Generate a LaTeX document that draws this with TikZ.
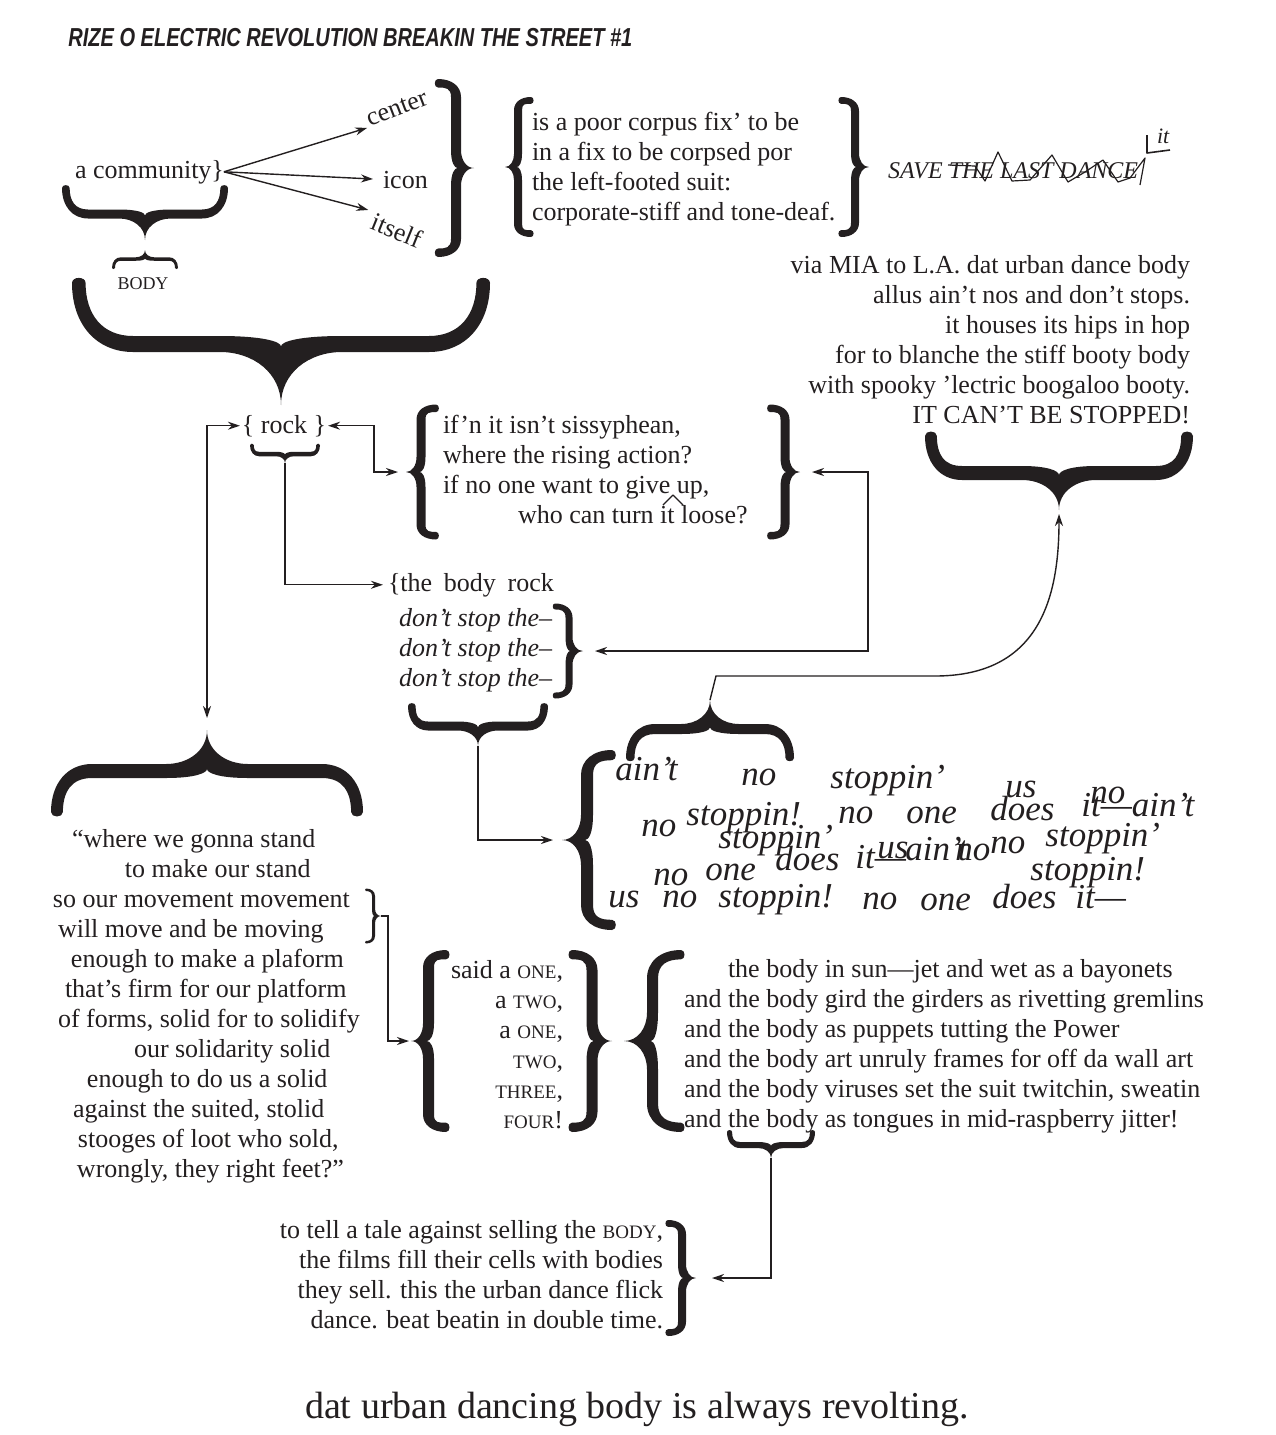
\documentclass[tikz,border=0pt]{standalone}
\usepackage{fontspec}
\setmainfont{Liberation Serif}
\newfontfamily\titlefont[FakeStretch=0.77]{Liberation Sans}
\usetikzlibrary{arrows.meta}
\definecolor{ink}{HTML}{231F20}
\newcommand\sca[1]{{\fontsize{9.5}{15}\selectfont #1}}
% heavy brace: name of tip, centre of open side, angle, length, depth, stem
\newcommand\heavybrace[6]{%
  \begin{scope}[shift={#2}, rotate=#3, x=0.5pt, y=0.5pt]
    \pgfmathsetmacro\brA{#4/2}%
    \pgfmathsetmacro\brD{#5}%
    \pgfmathsetmacro\brH{#5/2}%
    \pgfmathsetmacro\brT{#6/2}%
    \pgfmathsetmacro\brR{min(#5*0.5,#4*0.2)}%
    \pgfmathsetmacro\brE{#6*0.85}%
    \fill[ink] (-\brA,0)
      .. controls (-\brA,{-0.6*(\brH+\brT)}) and ({-\brA+0.4*\brR},{-\brH-\brT}) .. ({-\brA+\brR},{-\brH-\brT})
      -- ({-\brR},{-\brH-\brT})
      .. controls ({-0.45*\brR},{-\brH-\brT}) and (0,{-\brH-\brT-0.4*(\brH-\brT)}) .. (0,-\brD)
      .. controls (0,{-\brH-\brT-0.4*(\brH-\brT)}) and ({0.45*\brR},{-\brH-\brT}) .. ({\brR},{-\brH-\brT})
      -- ({\brA-\brR},{-\brH-\brT})
      .. controls ({\brA-0.4*\brR},{-\brH-\brT}) and (\brA,{-0.6*(\brH+\brT)}) .. (\brA,0)
      .. controls (\brA,{0.5*\brE}) and ({\brA-\brE},{0.5*\brE}) .. ({\brA-\brE},0)
      .. controls ({\brA-\brE},{-0.6*(\brH-\brT)}) and ({\brA-0.5*\brR},{-\brH+\brT}) .. ({\brA-\brR},{-\brH+\brT})
      -- ({\brR},{-\brH+\brT})
      .. controls ({0.3*\brR},{-\brH+\brT}) and (0,{-\brH+0.3*\brT}) .. (0,{-\brH-0.3*\brT})
      .. controls (0,{-\brH+0.3*\brT}) and ({-0.3*\brR},{-\brH+\brT}) .. ({-\brR},{-\brH+\brT})
      -- ({-\brA+\brR},{-\brH+\brT})
      .. controls ({-\brA+0.5*\brR},{-\brH+\brT}) and ({-\brA+\brE},{-0.6*(\brH-\brT)}) .. ({-\brA+\brE},0)
      .. controls ({-\brA+\brE},{0.5*\brE}) and (-\brA,{0.5*\brE}) .. (-\brA,0) -- cycle;
    \coordinate (#1) at (0,-\brD);
  \end{scope}}
\tikzset{
  verse/.style={inner sep=0pt, outer sep=0pt, align=left, text=ink, font=\fontsize{13}{15}\selectfont},
  verseright/.style={verse, align=right},
  jumble/.style={inner sep=0pt, anchor=base west, text=ink, font=\fontsize{17.5}{20}\selectfont\itshape},
  link/.style={draw=ink, line width=0.7pt},
  scribble/.style={draw=ink, line width=0.6pt, line join=round}
}
\begin{document}
\begin{tikzpicture}[x=0.5pt, y=-0.5pt, >={Stealth[length=6pt,width=4pt]}]
\useasboundingbox (0,0) rectangle (1275,1435);

\node[anchor=base west, inner sep=0pt, text=ink, font=\titlefont\bfseries\itshape\fontsize{13}{15}\selectfont] (title) at (68,46) {RIZE O ELECTRIC REVOLUTION BREAKIN THE STREET \#1};

% a community fan
\node[verse, anchor=base west] (comm) at (75,178) {a community\}};
\node[verse, anchor=south west, rotate=21] (center) at (370,127) {center};
\node[verse, anchor=base west] (icon) at (383,188) {icon};
\node[verse, anchor=north west, rotate=-22] (itself) at (376,212) {itself};
\draw[link,->,shorten >=1.5pt] (comm.east) -- (center.south west);
\draw[link,->,shorten >=5pt] (comm.east) -- (icon.west);
\draw[link,->,shorten >=4pt] (comm.east) -- (itself.north west);

\heavybrace{commtip}{(145,188)}{0}{166}{52}{9}
\heavybrace{bodytip}{(145,268)}{180}{66}{18}{3.5}
\node[inner sep=0pt, anchor=base, text=ink, font=\fontsize{9}{11}\selectfont] (body) at (143,289) {BODY};
\heavybrace{bigtip}{(281,283)}{0}{418}{122}{16}
\heavybrace{fantip}{(438,168)}{90}{178}{36}{10}

% corpus
\heavybrace{corpL}{(531,167)}{-90}{140}{26}{8}
\node[verse, anchor=north west] (corpus) at (532,112) {is a poor corpus fix' to be\\in a fix to be corpsed por\\the left-footed suit:\\corporate-stiff and tone-deaf.};
\heavybrace{corpR}{(841,167)}{90}{140}{28}{8}
\node[verse, anchor=base west, font=\fontsize{12}{14}\selectfont\itshape] (save) at (888,178) {SAVE THE LAST DANCE};
\draw[scribble] (948,165) -- (975,166) -- (985,181) -- (998,152) -- (1012,181) -- (1030,180) -- (1052,155) -- (1068,182) -- (1085,172) -- (1103,160) -- (1118,182) -- (1130,178) -- (1145,158) -- (1140,185);
\draw[scribble, line width=0.8pt] (1147,135) -- (1147,153) -- (1170,150);
\node[verse, anchor=base west, font=\fontsize{11}{13}\selectfont\itshape] (it) at (1157,143) {it};

% via MIA
\node[verseright, anchor=north east] (mia) at (1190,255) {via MIA to L.A. dat urban dance body\\allus ain't nos and don't stops.\\it houses its hips in hop\\for to blanche the stiff booty body\\with spooky 'lectric boogaloo booty.\\IT CAN'T BE STOPPED!};
\heavybrace{miatip}{(1059,436)}{0}{268}{74}{14}

% rock
\node[verse, anchor=base] (rock) at (284,433) {\{ rock \}};
\heavybrace{rocktip}{(285,445)}{0}{70}{18}{4.5}
\heavybrace{ifL}{(436,472)}{-90}{135}{30}{9}
\node[verse, anchor=north west] (ifn) at (443,415) {if'n it isn't sissyphean,\\where the rising action?\\if no one want to give up,\\\hspace*{37.5pt}who can turn it loose?};
\draw[scribble] (663,505) -- (673,495) -- (683,505);
\heavybrace{ifR}{(770,472)}{90}{135}{30}{9}

\node[verse, anchor=base west] (bodyrock) at (388,591) {\{the\hspace{0.45em}body\hspace{0.45em}rock};
\node[verse, anchor=north west, font=\fontsize{13}{15}\selectfont\itshape] (stop) at (399,608) {don't stop the--\\don't stop the--\\don't stop the--};
\heavybrace{stoptip}{(555,651)}{90}{95}{28}{7}
\heavybrace{stopbtip}{(478,706)}{0}{140}{40}{9}

% ain't no stoppin'
\heavybrace{aintip}{(710,758)}{180}{168}{58}{10}
\heavybrace{jumtip}{(612,840)}{-90}{180}{50}{12}
\foreach \x/\y/\w [count=\k] in {615/780/ain't, 741/785/no, 830/788/stoppin', 1005/797/us, 1090/803/no,
  641/836/no, 686/825/stoppin!, 838/823/no, 906/823/one, 990/820/does, 1081/816/it---ain't,
  718/848/stoppin', 877/858/us, 905/860/ain't, 955/860/no, 990/853/no, 1045/846/stoppin',
  653/885/no, 705/880/one, 775/870/does, 855/868/it---, 1030/880/stoppin!,
  608/907/us, 662/907/no, 718/907/stoppin!, 862/909/no, 920/910/one, 992/908/does, 1075/908/it---}
  \node[jumble] (jw\k) at (\x,\y) {\w};

% quote
\heavybrace{quotetip}{(207,812)}{180}{312}{82}{14}
\node[verse, anchor=north west] (quote) at (53,829) {\hspace*{9.5pt}``where we gonna stand\\
\hspace*{36pt}to make our stand\\
so our movement movement\\
\hspace*{2.5pt}will move and be moving\\
\hspace*{9pt}enough to make a plaform\\
\hspace*{6pt}that's firm for our platform\\
\hspace*{2.5pt}of forms, solid for to solidify\\
\hspace*{40.5pt}our solidarity solid\\
\hspace*{17pt}enough to do us a solid\\
\hspace*{10pt}against the suited, stolid\\
\hspace*{12.5pt}stooges of loot who sold,\\
\hspace*{12pt}wrongly, they right feet?''};
\heavybrace{movtip}{(366,916)}{90}{55}{15}{3}

% one two
\heavybrace{oneL}{(446,1041)}{-90}{182}{35}{11}
\node[verseright, anchor=north east] (count) at (563,960) {said a \sca{ONE},\\a \sca{TWO},\\a \sca{ONE},\\\sca{TWO},\\\sca{THREE},\\\sca{FOUR}!};
\heavybrace{oneR}{(572,1041)}{90}{182}{40}{11}
\heavybrace{bodyL}{(681,1041)}{-90}{182}{57}{11}
\node[verse, anchor=north west] (bodies) at (684,959) {\hspace*{22pt}the body in sun---jet and wet as a bayonets\\and the body gird the girders as rivetting gremlins\\and the body as puppets tutting the Power\\and the body art unruly frames for off da wall art\\and the body viruses set the suit twitchin, sweatin\\and the body as tongues in mid-raspberry jitter!};
\heavybrace{astip}{(771,1132)}{0}{88}{26}{6}

\node[verseright, anchor=north east] (tell) at (663,1220) {to tell a tale against selling the \sca{BODY},\\the films fill their cells with bodies\\they sell. this the urban dance flick\\dance. beat beatin in double time.};
\heavybrace{telltip}{(668,1278)}{90}{116}{28}{8}

\node[inner sep=0pt, anchor=base, text=ink, font=\fontsize{19}{22}\selectfont] (last) at (637,1418) {dat urban dancing body is always revolting.};

% connectors
\draw[link,<->,shorten <=1pt,shorten >=6pt] (rock.west) -| (quotetip);
\draw[link,<->,shorten <=1pt,shorten >=4pt] (rock.east) -- ++(48,0) |- (ifL);
\draw[link,->,shorten >=2.5pt] (rocktip) |- (bodyrock.west);
\draw[link,<->,shorten <=6pt,shorten >=6pt] (ifR) -- ++(68,0) |- (stoptip);
\draw[link,->,shorten >=4.5pt] (stopbtip) |- (jumtip);
\draw[link,->,shorten >=2pt] (aintip) -- ++(6,-24) -- ++(219,0) .. controls +(103,0) and +(0,90) .. (miatip);
\draw[link,->,shorten >=1pt] (movtip) -- ++(7,0) |- (oneL);
\draw[link,->,shorten >=8pt] (astip) |- (telltip);
\end{tikzpicture}
\end{document}
